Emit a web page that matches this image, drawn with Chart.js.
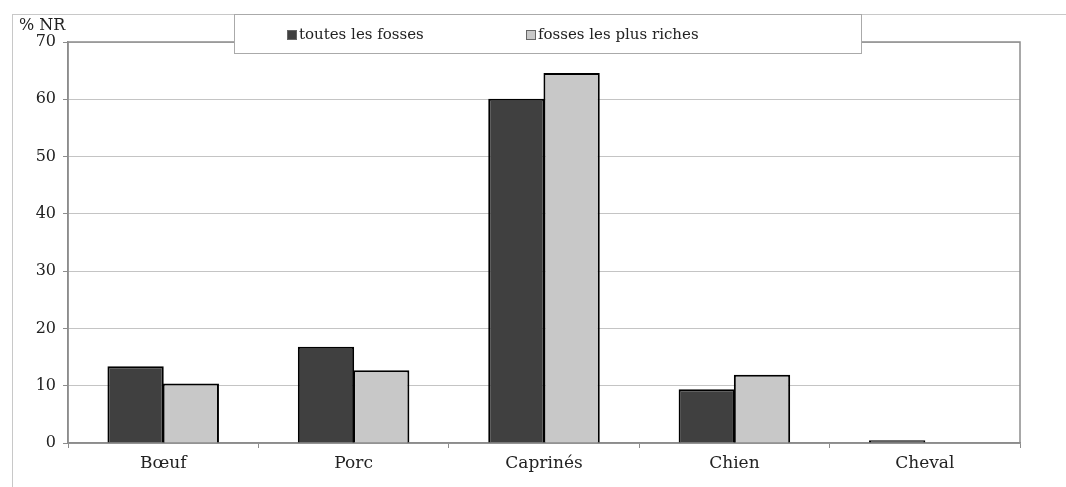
<!DOCTYPE html>
<html>
<head>
<meta charset="utf-8">
<script src="https://cdn.jsdelivr.net/npm/chart.js@4/dist/chart.umd.min.js"></script>
<style>
  body { margin: 0; background: #fff; }
  #wrap { position: relative; width: 1066px; height: 487px; }
  #frame { position: absolute; left: 12px; top: 14px; width: 1070px; height: 480px; border: 1px solid #c8c8c8; box-sizing: border-box; }
  #unit { position: absolute; left: 19px; top: 15px; font: 16px 'DejaVu Serif', serif; color: #222; }
  #legend { position: absolute; left: 234px; top: 14px; width: 628px; height: 40px; border: 1px solid #aaa; background: #fff; box-sizing: border-box; font: 15px 'DejaVu Serif', serif; color: #222; }
  .item { position: absolute; top: 10px; white-space: nowrap; }
  .sw { display: inline-block; width: 10px; height: 10px; border: 1px solid #666; margin-right: 2px; vertical-align: -1px; box-sizing: border-box; }
  canvas { position: absolute; left: 0; top: 0; }
</style>
</head>
<body>
<div id="wrap">
  <div id="frame"></div>
  <canvas id="c" width="1066" height="487"></canvas>
  <div id="unit">% NR</div>
  <div id="legend"></div>
</div>
<script>
const categories = ['Bœuf', 'Porc', 'Caprinés', 'Chien', 'Cheval'];
const seriesNames = ['toutes les fosses', 'fosses les plus riches'];
const toutesLesFosses = [13.4, 16.8, 60.1, 9.4, 0.5];
const fossesRiches = [10.4, 12.7, 64.6, 11.9, 0];
const seriesColors = ['#404040', '#c8c8c8'];
const yTicks = [0, 10, 20, 30, 40, 50, 60, 70];

const legend = document.getElementById('legend');
const legendX = [52, 291];
seriesNames.forEach((name, i) => {
  const div = document.createElement('div');
  div.className = 'item';
  div.style.left = legendX[i] + 'px';
  div.innerHTML = `<span class="sw" style="background:${seriesColors[i]}"></span>${name}`;
  legend.appendChild(div);
});

const plotFrame = {
  id: 'plotFrame',
  beforeDatasetsDraw(chart) {
    const a = chart.chartArea;
    const ctx = chart.ctx;
    ctx.save();
    ctx.strokeStyle = '#8c8c8c';
    ctx.lineWidth = 1.5;
    ctx.strokeRect(a.left, a.top, a.right - a.left, a.bottom - a.top);
    ctx.restore();
  }
};

new Chart(document.getElementById('c'), {
  type: 'bar',
  data: {
    labels: categories,
    datasets: [toutesLesFosses, fossesRiches].map((d, i) => ({
      label: seriesNames[i],
      data: d,
      backgroundColor: seriesColors[i],
      borderColor: '#000',
      borderWidth: 2,
      categoryPercentage: 0.58,
      barPercentage: 1.02
    }))
  },
  options: {
    responsive: false,
    animation: false,
    layout: { padding: { top: 42, right: 46, left: 0, bottom: 0 } },
    plugins: { legend: { display: false }, tooltip: { enabled: false } },
    scales: {
      x: {
        grid: { drawOnChartArea: false, color: '#8c8c8c', tickLength: 5 },
        border: { color: '#8c8c8c', width: 1.5 },
        ticks: { font: { family: 'DejaVu Serif', size: 17 }, color: '#222', padding: 5 },
        afterFit: s => { s.height = 44; }
      },
      y: {
        min: 0,
        max: 70,
        afterBuildTicks: s => { s.ticks = yTicks.map(v => ({ value: v })); },
        grid: { color: '#c4c4c4', tickColor: '#8c8c8c', tickLength: 5 },
        border: { color: '#8c8c8c', width: 1.5 },
        ticks: { font: { family: 'DejaVu Serif', size: 16 }, color: '#222', padding: 7 },
        afterFit: s => { s.width = 68; }
      }
    }
  },
  plugins: [plotFrame]
});
</script>
</body>
</html>
